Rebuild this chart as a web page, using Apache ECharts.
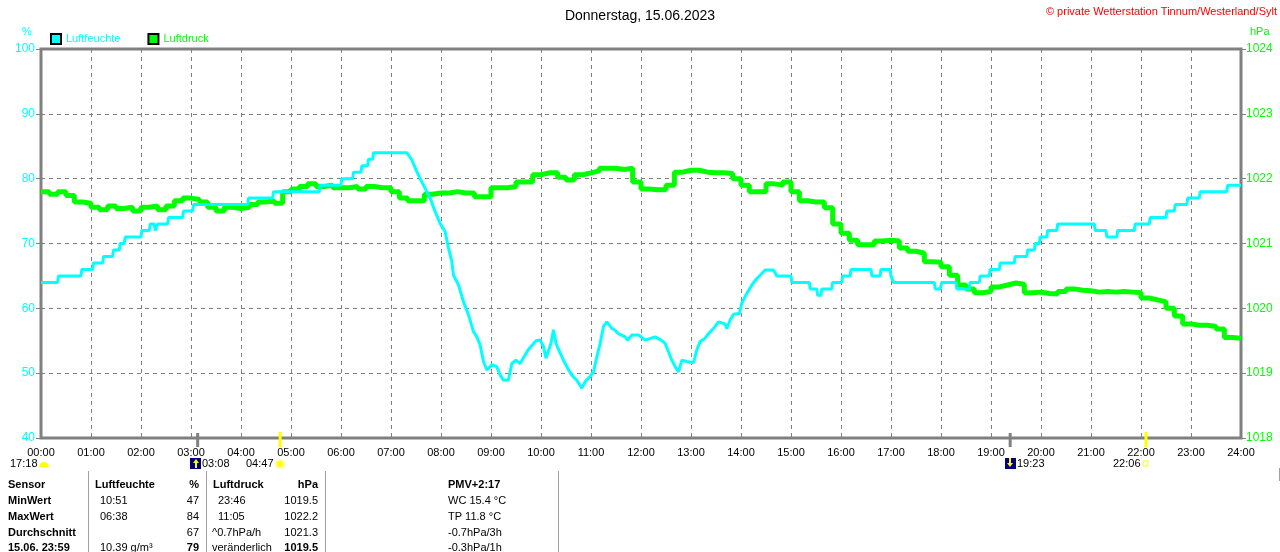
<!DOCTYPE html>
<html>
<head>
<meta charset="utf-8">
<title>Donnerstag, 15.06.2023</title>
<script src="https://cdn.jsdelivr.net/npm/echarts@6/dist/echarts.min.js"></script>
<style>
  html, body { margin: 0; padding: 0; background: #fff; }
  #main { width: 1280px; height: 552px; }
</style>
</head>
<body>
<div id="main"></div>
<script>
// ---------- Daten
var titleText = "Donnerstag, 15.06.2023";
var copyright = "\u00a9 private Wetterstation Tinnum/Westerland/Sylt";
var hourLabels = ["00:00","01:00","02:00","03:00","04:00","05:00","06:00","07:00","08:00",
  "09:00","10:00","11:00","12:00","13:00","14:00","15:00","16:00","17:00","18:00","19:00",
  "20:00","21:00","22:00","23:00","24:00"];

// Luftfeuchte: Minute des Tages / Wert in %
var humMinutes = [0,20,21,48,49,62,63,74,75,86,87,94,95,100,101,120,121,130,131,136,137,139,140,152,153,
  170,171,182,183,248,249,278,279,334,335,360,361,374,375,384,385,392,393,398,399,439,
  445,451,455,461,467,473,479,485,489,493,495,501,507,513,519,523,527,531,535,541,547,551,555,
  561,565,570,575,584,594,599,603,606,608,612,615,618,623,627,633,637,643,649,653,659,663,667,
  671,675,679,685,688,693,701,704,709,717,725,737,744,749,753,757,761,765,769,775,783,787,791,
  797,801,807,813,821,823,827,831,838,841,847,853,859,863,869,879,883,
  900,901,922,923,931,932,936,937,949,950,961,962,971,972,996,997,1007,1008,1019,1020,1022,1023,
  1072,1073,1079,1081,1098,1099,1114,1115,1126,1127,1138,1139,1150,1151,1168,1169,1183,1184,
  1192,1193,1198,1199,1207,1208,1219,1220,1264,1265,1278,1279,1291,1292,1312,1313,1330,1331,
  1350,1351,1360,1361,1375,1376,1390,1391,1423,1424,1440];
var humValues = [64,64,65,65,66,66,67,67,68,68,69,69,70,70,71,71,72,72,73,73,72,72,73,73,74,
  74,75,75,76,76,77,77,78,78,79,79,80,80,81,81,82,82,83,83,84,84,
  82.9,81.1,80,78.5,77,74.9,73.1,71.8,69.3,67.2,65.1,63.6,61,59,56.4,55.6,54.3,51.8,50.5,51.3,51,49.7,48.9,
  49,51.5,52,51.5,53.5,55,55.1,54.1,52.3,52.3,54.6,56.7,54.6,53.1,52,50.5,49.7,48.9,47.7,48.7,49.5,50.2,52.5,
  54.6,57.2,57.9,56.9,56.7,56.1,55.6,55.1,55.9,55.9,55.1,55.6,55.1,54.6,53.3,52,51,50.2,52,51.8,51.6,53.6,54.9,
  55.4,56.1,56.9,57.9,57.6,56.9,58.2,59.1,59.2,60.8,62.3,63.6,64.6,65.1,65.9,65.9,65,
  65,64,64,63,63,62,62,63,63,64,64,65,65,66,66,65,65,66,66,65,65,64,
  64,63,63,64,64,63,63,64,64,65,65,66,66,67,67,68,68,69,
  69,70,70,71,71,72,72,73,73,72,72,71,71,72,72,73,73,74,
  74,75,75,76,76,77,77,78,78,79,79];

// Luftdruck alle 10 Minuten, hPa
var presValues = [
  1021.80,1021.76,1021.80,1021.74,1021.64,1021.62,
  1021.56,1021.52,1021.58,1021.54,1021.56,1021.50,
  1021.56,1021.58,1021.52,1021.58,1021.66,1021.70,
  1021.68,1021.64,1021.56,1021.50,1021.56,1021.54,
  1021.56,1021.60,1021.64,1021.66,1021.62,1021.80,
  1021.84,1021.88,1021.92,1021.88,1021.90,1021.86,
  1021.86,1021.88,1021.84,1021.88,1021.86,1021.86,
  1021.80,1021.70,1021.66,1021.66,1021.76,1021.78,
  1021.78,1021.80,1021.78,1021.78,1021.72,1021.72,
  1021.86,1021.86,1021.88,1021.95,1021.95,1022.06,
  1022.09,1022.09,1022.02,1021.98,1022.06,1022.09,
  1022.12,1022.16,1022.16,1022.14,1022.16,1021.95,
  1021.84,1021.83,1021.83,1021.90,1022.10,1022.13,
  1022.13,1022.10,1022.09,1022.09,1022.08,1022.00,
  1021.90,1021.80,1021.80,1021.92,1021.90,1021.95,
  1021.80,1021.66,1021.64,1021.64,1021.55,1021.30,
  1021.16,1021.05,1020.98,1020.98,1021.04,1021.05,
  1021.04,1020.93,1020.88,1020.85,1020.72,1020.71,
  1020.64,1020.51,1020.36,1020.30,1020.24,1020.26,
  1020.33,1020.36,1020.39,1020.37,1020.24,1020.25,
  1020.23,1020.22,1020.26,1020.30,1020.28,1020.27,
  1020.25,1020.26,1020.25,1020.26,1020.25,1020.24,
  1020.16,1020.13,1020.10,1020.00,1019.88,1019.76,
  1019.74,1019.74,1019.72,1019.68,1019.55,1019.54,
  1019.54];

// Sonne / Mond
var moonMinutes = [188, 1163];     // 03:08, 19:23
var sunMinutes = [287, 1326];      // 04:47, 22:06

// Tabelle unten
var tableRows = ["Sensor", "MinWert", "MaxWert", "Durchschnitt", "15.06. 23:59"];
var humTimes = ["Luftfeuchte", "10:51", "06:38", "", "10.39 g/m\u00b3"];
var humStats = ["%", "47", "84", "67", "79"];
var presTimes = ["Luftdruck", "23:46", "11:05", "^0.7hPa/h", "ver\u00e4nderlich"];
var presStats = ["hPa", "1019.5", "1022.2", "1021.3", "1019.5"];
var extraInfo = ["PMV+2:17", "WC 15.4 \u00b0C", "TP 11.8 \u00b0C", "-0.7hPa/3h", "-0.3hPa/1h"];

onload = function () {
  var CYAN = "#00ffff";
  var GREEN = "#00ff00";
  var GRAY = "#808080";
  var FONT = "Liberation Sans";

  var humData = [];
  for (var i = 0; i < humMinutes.length; i++) {
    humData.push([humMinutes[i], humValues[i]]);
  }
  var presData = [];
  for (var j = 0; j < presValues.length; j++) {
    presData.push([j * 10, presValues[j]]);
  }

  var myChart = echarts.init(document.getElementById("main"));

  var option = {
    animation: false,
    backgroundColor: "#fff",
    textStyle: { fontFamily: FONT },
    title: {
      text: titleText,
      left: "center",
      top: 4,
      textStyle: { fontSize: 14, fontWeight: "normal", color: "#000", fontFamily: FONT },
    },
    legend: {
      left: 50,
      top: 33,
      padding: 0,
      itemWidth: 10,
      itemHeight: 10,
      itemGap: 27,
      icon: "rect",
      data: [
        { name: "Luftfeuchte", textStyle: { color: CYAN } },
        { name: "Luftdruck", textStyle: { color: GREEN } },
      ],
      textStyle: { fontSize: 11, fontFamily: FONT, padding: [1, 0, 0, 0] },
      selectedMode: false,
    },
    grid: {
      left: 41,
      right: 39,
      top: 49,
      bottom: 114,
      show: true,
      borderColor: GRAY,
      borderWidth: 3,
    },
    xAxis: {
      type: "value",
      min: 0,
      max: 1440,
      interval: 60,
      axisLine: { show: false },
      axisTick: { show: false },
      axisLabel: {
        color: "#000",
        fontSize: 11,
        margin: 9,
        formatter: function (v) { return hourLabels[v / 60]; },
      },
      splitLine: { lineStyle: { color: GRAY, type: [4, 4], width: 1 } },
    },
    yAxis: [
      {
        type: "value",
        min: 40,
        max: 100,
        interval: 10,
        axisLine: { show: false },
        axisTick: { show: true, length: 5, lineStyle: { color: GRAY, width: 1 } },
        axisLabel: { color: CYAN, fontSize: 12, margin: 6 },
        splitLine: { lineStyle: { color: GRAY, type: [4, 4], width: 1 } },
      },
      {
        type: "value",
        min: 1018,
        max: 1024,
        interval: 1,
        axisLine: { show: false },
        axisTick: { show: true, length: 5, lineStyle: { color: GRAY, width: 1 } },
        axisLabel: {
          color: GREEN,
          fontSize: 12,
          margin: 5,
          formatter: function (v) { return String(v); },
        },
        splitLine: { show: false },
      },
    ],
    series: [
      {
        name: "Luftdruck",
        type: "line",
        yAxisIndex: 1,
        step: "end",
        showSymbol: false,
        data: presData,
        itemStyle: { color: GREEN, borderColor: "#000", borderWidth: 1 },
        lineStyle: { color: GREEN, width: 5 },
        z: 2,
      },
      {
        name: "Luftfeuchte",
        type: "line",
        yAxisIndex: 0,
        showSymbol: false,
        data: humData,
        itemStyle: { color: CYAN, borderColor: "#000", borderWidth: 1 },
        lineStyle: { color: CYAN, width: 3 },
        z: 3,
      },
    ],
  };

  myChart.setOption(option);

  // ---------- Zusatzgrafik: Texte, Marker, Tabelle
  var g = [];
  var txt = function (x, y, s, color, opts) {
    opts = opts || {};
    g.push({
      type: "text",
      x: x,
      y: y,
      silent: true,
      style: {
        text: s,
        fill: color || "#000",
        font: (opts.bold ? "bold " : "") + (opts.size || 11) + "px " + FONT,
        textAlign: opts.align || "left",
        textVerticalAlign: "middle",
      },
    });
  };
  var line = function (x1, y1, x2, y2, color, w) {
    g.push({
      type: "line",
      silent: true,
      shape: { x1: x1, y1: y1, x2: x2, y2: y2 },
      style: { stroke: color, lineWidth: w || 1 },
    });
  };

  txt(1277, 12, copyright, "#ff0000", { align: "right", size: 11 });
  txt(27, 32, "%", CYAN, { align: "center", size: 11 });
  txt(1250, 32, "hPa", GREEN, { align: "left", size: 11 });

  // Mond- und Sonnenmarker auf der Zeitachse
  var yAxisPx = myChart.convertToPixel({ yAxisIndex: 0 }, 40);
  moonMinutes.forEach(function (m) {
    var x = myChart.convertToPixel({ xAxisIndex: 0 }, m);
    line(x, yAxisPx - 5, x, yAxisPx + 9, GRAY, 3);
  });
  sunMinutes.forEach(function (m) {
    var x = myChart.convertToPixel({ xAxisIndex: 0 }, m);
    line(x, yAxisPx - 6, x, yAxisPx + 9, "#ffff00", 3);
  });

  // Zeile mit Auf-/Untergangszeiten
  txt(10, 464, "17:18", "#000");
  g.push({ type: "sector", silent: true,
    shape: { cx: 44, cy: 467, r: 5, startAngle: Math.PI, endAngle: 2 * Math.PI },
    style: { fill: "#ffff00" } });
  g.push({ type: "rect", silent: true, shape: { x: 190, y: 458, width: 11, height: 11 },
    style: { fill: "#000080" } });
  g.push({ type: "polygon", silent: true,
    shape: { points: [[196, 459], [199, 463], [197, 463], [197, 468], [195, 468], [195, 463], [193, 463]] },
    style: { fill: "#ffff00" } });
  txt(202, 464, "03:08", "#000");
  txt(246, 464, "04:47", "#000");
  g.push({ type: "circle", silent: true, shape: { cx: 280, cy: 464, r: 4 },
    style: { fill: "#ffff00", stroke: "#ffff99", lineWidth: 2 } });
  g.push({ type: "rect", silent: true, shape: { x: 1005, y: 458, width: 11, height: 11 },
    style: { fill: "#000080" } });
  g.push({ type: "polygon", silent: true,
    shape: { points: [[1010, 467], [1013, 463], [1011, 463], [1011, 458], [1009, 458], [1009, 463], [1007, 463]] },
    style: { fill: "#ffff00" } });
  txt(1017, 464, "19:23", "#000");
  txt(1113, 464, "22:06", "#000");
  g.push({ type: "rect", silent: true, shape: { x: 1143, y: 461, width: 5, height: 5 },
    style: { fill: "none", stroke: "#ffff00", lineWidth: 1 } });

  // Tabelle
  var rowY = [485, 501, 517, 533, 548];
  [88, 206, 325, 558].forEach(function (x) {
    line(x + 0.5, 471, x + 0.5, 552, "#a0a0a0", 1);
  });
  line(1279.5, 468, 1279.5, 481, "#a0a0a0", 1);
  for (var r = 0; r < rowY.length; r++) {
    var y = rowY[r];
    var head = r === 0;
    txt(8, y, tableRows[r], "#000", { bold: true });
    txt(head ? 95 : 100, y, humTimes[r], "#000", { bold: head });
    txt(199, y, humStats[r], "#000", { bold: head || r === 4, align: "right" });
    txt(head ? 213 : (r < 3 ? 218 : 212), y, presTimes[r], "#000", { bold: head });
    txt(318, y, presStats[r], "#000", { bold: head || r === 4, align: "right" });
    txt(448, y, extraInfo[r], "#000", { bold: head });
  }

  myChart.setOption({ graphic: { elements: g } });
};
</script>
</body>
</html>
